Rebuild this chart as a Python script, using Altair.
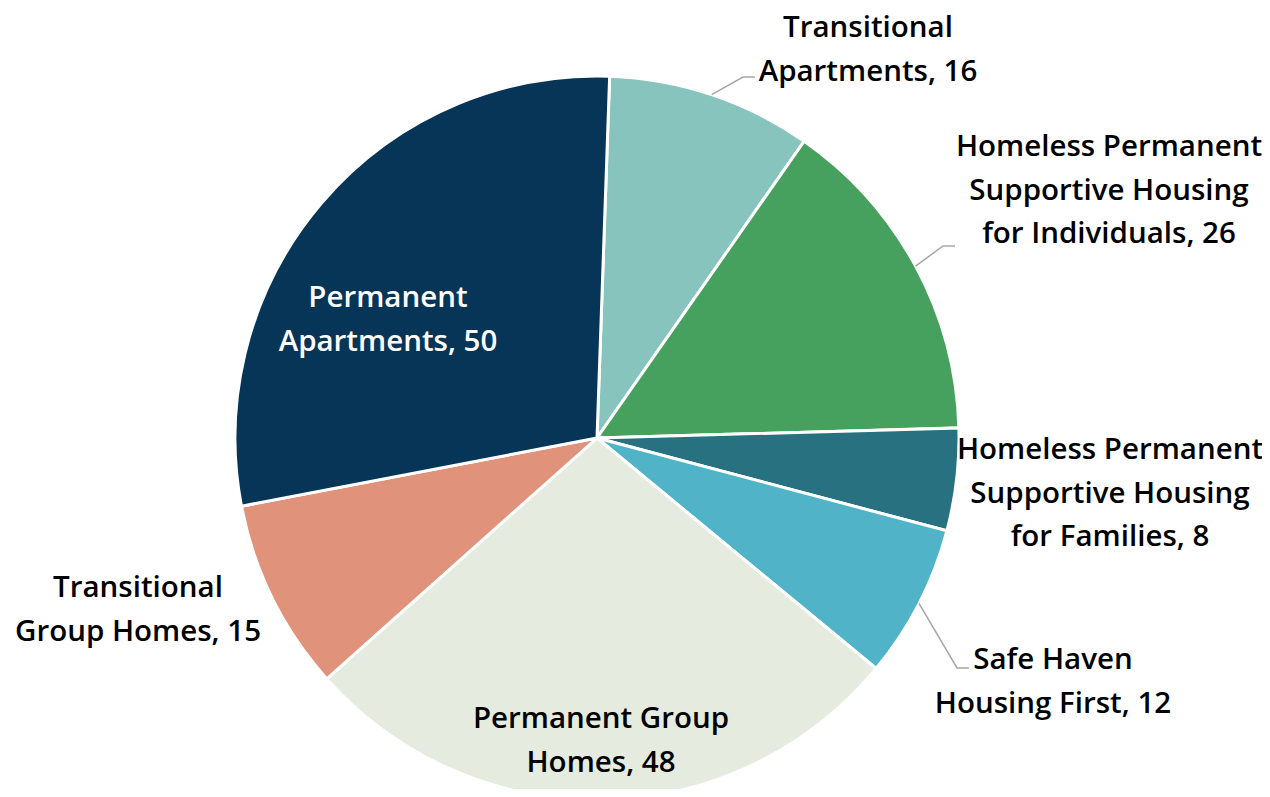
import math
import altair as alt
import pandas as pd

# ---- data (clockwise from the top) ----
categories = [
    "Transitional Apartments",
    "Homeless Permanent Supportive Housing for Individuals",
    "Homeless Permanent Supportive Housing for Families",
    "Safe Haven Housing First",
    "Permanent Group Homes",
    "Transitional Group Homes",
    "Permanent Apartments",
]
values = [16, 26, 8, 12, 48, 15, 50]
label_lines = [
    ["Transitional", "Apartments"],
    ["Homeless Permanent", "Supportive Housing", "for Individuals"],
    ["Homeless Permanent", "Supportive Housing", "for Families"],
    ["Safe Haven", "Housing First"],
    ["Permanent Group", "Homes"],
    ["Transitional", "Group Homes"],
    ["Permanent", "Apartments"],
]
colors = ["#86C4BD", "#46A05E", "#287180", "#50B3C8", "#E6EBDF", "#E0937A", "#063557"]

# ---- layout / style ----
CX, CY, R = 589, 430, 362
START = math.radians(2.0)
W, H = 1254, 781
FONT = "Open Sans"
# label anchor (centre x, first baseline y), text colour, leader elbow (or None)
label_layout = [
    (860, 29, "#000000", (735, 69)),
    (1101, 148, "#000000", (935, 238)),
    (1102, 451, "#000000", None),
    (1045, 661, "#000000", (949, 660)),
    (593, 720, "#000000", None),
    (130, 589, "#000000", None),
    (380, 299, "#FFFFFF", None),
]

total = sum(values)
pie_df = pd.DataFrame({
    "cat": categories,
    "value": values,
    "idx": list(range(len(values))),
})

arcs = alt.Chart(pie_df).mark_arc(
    outerRadius=R, stroke="white", strokeWidth=3
).encode(
    theta=alt.Theta("value:Q", stack=True,
                    scale=alt.Scale(range=[START, START + 2 * math.pi])),
    color=alt.Color("cat:N", scale=alt.Scale(domain=categories, range=colors), legend=None),
    order=alt.Order("idx:Q"),
    x=alt.value(CX),
    y=alt.value(CY),
)

# labels
lab_rows = []
for i, (lines, v) in enumerate(zip(label_lines, values)):
    lx, ly, col, _ = label_layout[i]
    txt = list(lines[:-1]) + [f"{lines[-1]}, {v}"]
    lab_rows.append({"text": txt, "x": lx, "y": ly, "col": col})
lab_df = pd.DataFrame(lab_rows)

labels = alt.Chart(lab_df).mark_text(
    font=FONT, fontSize=29.5, fontWeight=600, align="center",
    baseline="alphabetic", lineHeight=43.5
).encode(
    x=alt.X("x:Q", scale=None),
    y=alt.Y("y:Q", scale=None),
    text=alt.Text("text"),
    color=alt.Color("col:N", scale=None),
)

# leader lines: slice edge at mid-angle -> elbow -> short horizontal
lead_rows = []
cum = 0
for i, v in enumerate(values):
    mid = START + 2 * math.pi * (cum + v / 2) / total
    cum += v
    elbow = label_layout[i][3]
    if elbow is None:
        continue
    sx = CX + R * math.sin(mid)
    sy = CY - R * math.cos(mid)
    ex, ey = elbow
    lead_rows += [
        {"g": i, "o": 0, "x": sx, "y": sy},
        {"g": i, "o": 1, "x": ex, "y": ey},
        {"g": i, "o": 2, "x": ex + 12, "y": ey},
    ]
lead_df = pd.DataFrame(lead_rows)

leaders = alt.Chart(lead_df).mark_line(color="#A6A6A6", strokeWidth=1.5).encode(
    x=alt.X("x:Q", scale=None),
    y=alt.Y("y:Q", scale=None),
    detail="g:N",
    order="o:Q",
)

chart = alt.layer(arcs, leaders, labels).properties(
    width=W, height=H, autosize=alt.AutoSizeParams(type="none"), padding=0
).configure_view(stroke=None)

chart.save("out.html", embed_options={"renderer": "svg", "actions": False})
